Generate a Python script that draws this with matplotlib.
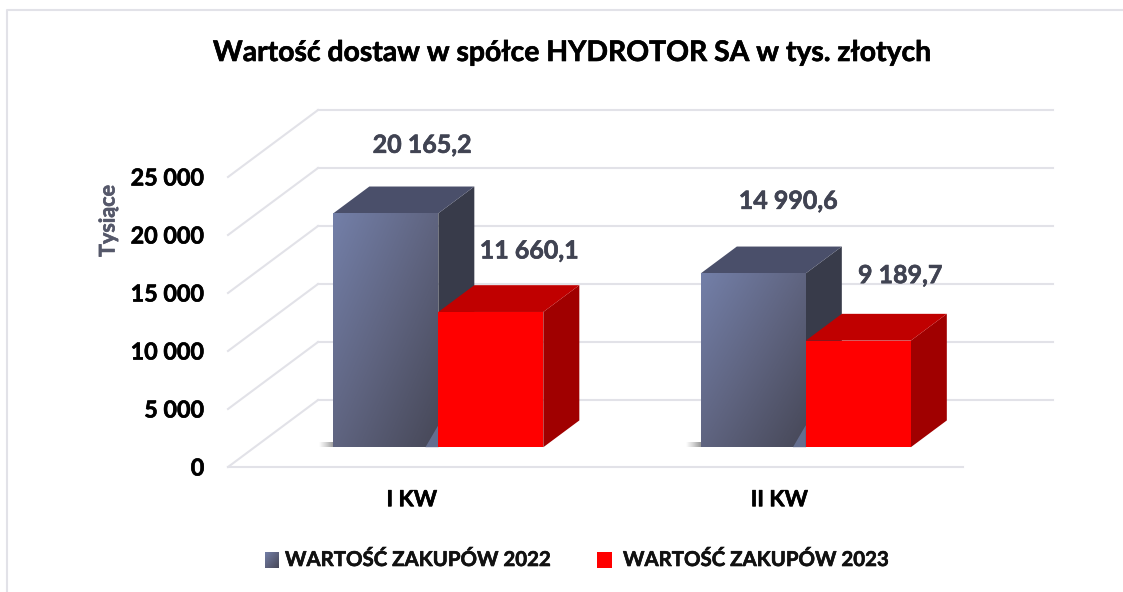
import numpy as np
import matplotlib
matplotlib.use('Agg')
import matplotlib.pyplot as plt
import matplotlib.patheffects as pe
from matplotlib.colors import LinearSegmentedColormap
from matplotlib.patches import Polygon, Rectangle

plt.rcParams['font.family'] = ['Lato', 'DejaVu Sans']
plt.rcParams['font.weight'] = 'bold'

W, H = 1123, 592

categories = ['I KW', 'II KW']
series_names = ['WARTOŚĆ ZAKUPÓW 2022', 'WARTOŚĆ ZAKUPÓW 2023']
values_2022 = [20165.2, 14990.6]
values_2023 = [11660.1, 9189.7]
labels_2022 = ['20 165,2', '14 990,6']
labels_2023 = ['11 660,1', '9 189,7']
y_ticks = [0, 5000, 10000, 15000, 20000, 25000]
y_tick_labels = ['0', '5 000', '10 000', '15 000', '20 000', '25 000']

# wzorzec rzutu ukosnego: glebokosc d=1 to tylna sciana wykresu
DX = 0.245
DY = 5776
BAR_W = 0.2857
BAR_D0 = 0.295
BAR_D1 = 0.695

GRID = '#E2E2E8'
TEXT_GREY = '#404352'

blue_grad = LinearSegmentedColormap.from_list('b', ['#737FA8', '#5F6480', '#474858'])


def px(x, y, w, h):
    return [x / W, 1 - (y + h) / H, w / W, h / H]


def proj(x, y, d):
    return (x + d * DX, y + d * DY)


def thick(t, color, lw=0.45):
    # Lato Bold jest chudszy niz oryginalny font, lekko go pogrubiamy
    t.set_path_effects([pe.withStroke(linewidth=lw, foreground=color)])
    return t


def diag_image(ax, extent, cmap, zorder):
    gx, gy = np.meshgrid(np.linspace(0, 1, 60), np.linspace(0, 1, 60))
    ax.imshow((gx + gy) / 2, extent=extent, origin='upper', cmap=cmap, vmin=0, vmax=1,
              aspect='auto', zorder=zorder, interpolation='bilinear', clip_on=False)


def draw_bar(ax, x0, val, front, top, side, z):
    x1 = x0 + BAR_W
    fx0, fy0 = proj(x0, 0, BAR_D0)
    fx1, fy1 = proj(x1, val, BAR_D0)
    pts_top = [proj(x0, val, BAR_D0), proj(x1, val, BAR_D0), proj(x1, val, BAR_D1), proj(x0, val, BAR_D1)]
    pts_side = [proj(x1, 0, BAR_D0), proj(x1, val, BAR_D0), proj(x1, val, BAR_D1), proj(x1, 0, BAR_D1)]
    ax.add_patch(Polygon(pts_side, color=side, lw=0, zorder=z, clip_on=False))
    ax.add_patch(Polygon(pts_top, color=top, lw=0, zorder=z, clip_on=False))
    if front is None:
        diag_image(ax, [fx0, fx1, fy0, fy1], blue_grad, z + 0.1)
        # jasny odblask w prawym dolnym rogu
        ax.add_patch(Polygon([(fx1, fy0), (fx1 - 0.035, fy0), (fx1, fy0 + 1900)], color='#6A7599',
                             lw=0, alpha=0.85, zorder=z + 0.2, clip_on=False))
        # cien przy podstawie
        sh = np.linspace(0, 1, 40).reshape(1, -1)
        shadow = LinearSegmentedColormap.from_list('s', ['#FFFFFF', '#D2D2D2', '#9A9A9A'])
        ax.imshow(sh, extent=[fx0 - 0.04, fx0, fy0, fy0 + 400], cmap=shadow, aspect='auto',
                  zorder=z - 0.1, clip_on=False, interpolation='bilinear')
    else:
        ax.add_patch(Rectangle((fx0, fy0), fx1 - fx0, fy1 - fy0, color=front, lw=0, zorder=z + 0.1, clip_on=False))


fig = plt.figure(figsize=(W / 100, H / 100), dpi=100, facecolor='white')

# ramka calego wykresu
fig.add_artist(plt.Line2D([7 / W, 7 / W, 1], [0, 1 - 10 / H, 1 - 10 / H], color=GRID, lw=1.5))

ax = fig.add_axes(px(228, 177, 735, 290))
ax.set_xlim(-0.5, 1.5)
ax.set_ylim(0, 25000)
for s in ax.spines.values():
    s.set_visible(False)
ax.patch.set_alpha(0)

ax.set_xticks(range(len(categories)))
ax.set_xticklabels(categories, fontsize=16, fontweight='bold', color='black')
ax.set_yticks(y_ticks)
ax.set_yticklabels(y_tick_labels, fontsize=16.8, fontweight='bold', color='black')
ax.tick_params(axis='x', length=0, pad=16)
ax.tick_params(axis='y', length=0, pad=17)
for t in ax.get_xticklabels() + ax.get_yticklabels():
    thick(t, 'black')

# siatka: tylna sciana i lewy bok
for v in y_ticks:
    xa, ya = proj(-0.5, v, 1)
    ax.plot([xa, 1.5 + DX], [ya, ya], color=GRID, lw=1.5, zorder=1, clip_on=False)
    ax.plot([-0.5, xa], [v, ya], color=GRID, lw=1.5, zorder=1, clip_on=False)
ax.plot([-0.5, 1.5], [0, 0], color=GRID, lw=1.5, zorder=1, clip_on=False)

# slupki
label_offsets_2022 = [(36.5, 68), (35, 72)]
label_offsets_2023 = [(38.5, 61), (42, 65)]
for i, cat in enumerate(categories):
    draw_bar(ax, i - BAR_W, values_2022[i], None, '#4A4F6A', '#383B4A', 3)
    draw_bar(ax, i, values_2023[i], '#FF0000', '#C00000', '#A00000', 4)

    xb, yb = proj(i - BAR_W / 2, values_2022[i], BAR_D0)
    a = ax.annotate(labels_2022[i], (xb, yb), xytext=label_offsets_2022[i], textcoords='offset pixels',
                    ha='center', va='center', fontsize=18, fontweight='bold', color=TEXT_GREY, zorder=6)
    thick(a, TEXT_GREY)
    xr, yr = proj(i + BAR_W / 2, values_2023[i], BAR_D0)
    a = ax.annotate(labels_2023[i], (xr, yr), xytext=label_offsets_2023[i], textcoords='offset pixels',
                    ha='center', va='center', fontsize=18, fontweight='bold', color=TEXT_GREY, zorder=6)
    thick(a, TEXT_GREY)

ax.set_xlim(-0.5, 1.5)
ax.set_ylim(0, 25000)

thick(fig.text(572.5 / W, 1 - 53 / H, 'Wartość dostaw w spółce HYDROTOR SA w tys. złotych',
               ha='center', va='center', fontsize=20.4, fontweight='bold', color='black'), 'black')
thick(fig.text(108 / W, 1 - 221 / H, 'Tysiące', rotation=90, ha='center', va='center',
               fontsize=15.5, fontweight='bold', color='#55586A'), '#55586A')

# legenda
lg = fig.add_axes(px(265, 552, 14, 16))
lg.axis('off')
gx, gy = np.meshgrid(np.linspace(0, 1, 20), np.linspace(0, 1, 20))
lg.imshow((gx + gy) / 2, cmap=blue_grad, vmin=0, vmax=1, aspect='auto', interpolation='bilinear')
thick(fig.text(285 / W, 1 - 560 / H, series_names[0], ha='left', va='center', fontsize=14.7,
               fontweight='bold', color='#111111'), '#111111')
fig.add_artist(Rectangle((597 / W, 1 - 568 / H), 15 / W, 16 / H, color='#FF0000', lw=0,
                         transform=fig.transFigure))
thick(fig.text(623 / W, 1 - 560 / H, series_names[1], ha='left', va='center', fontsize=14.7,
               fontweight='bold', color='#111111'), '#111111')

fig.savefig('out.png', dpi=100)
